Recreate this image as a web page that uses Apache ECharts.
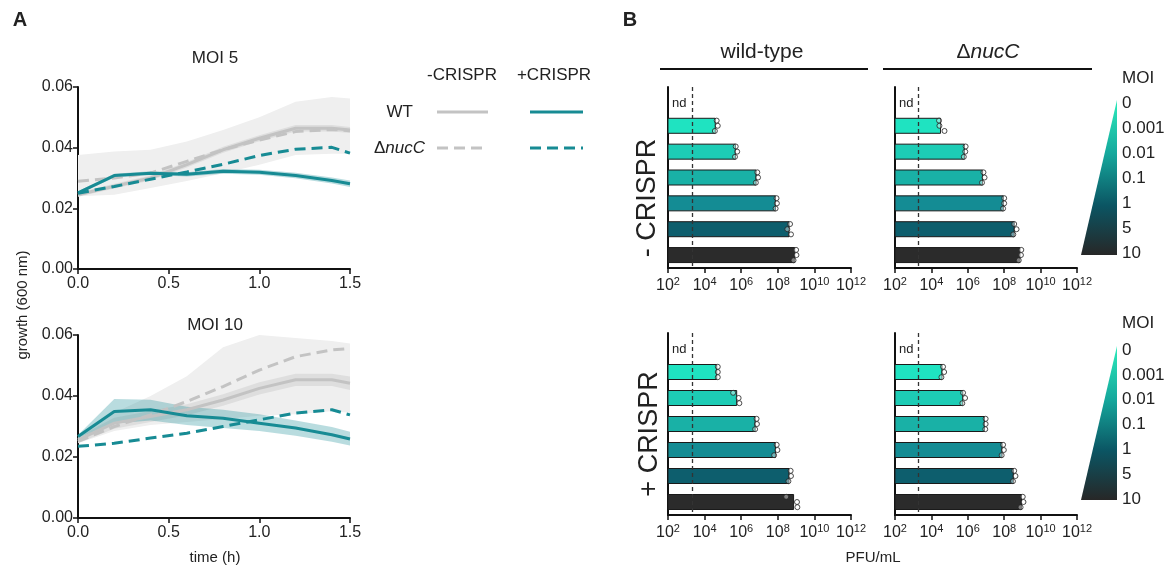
<!DOCTYPE html>
<html>
<head>
<meta charset="utf-8">
<script src="https://cdn.jsdelivr.net/npm/echarts@6/dist/echarts.min.js"></script>
<style>html,body{margin:0;background:#fff}#main{width:1176px;height:575px}</style>
</head>
<body>
<div id="main"></div>
<script>
// ---- panel A : growth curves (OD600) ----
const times = [0, 0.2, 0.4, 0.6, 0.8, 1.0, 1.2, 1.4, 1.5];

// MOI 5
const m5WtMinus  = [0.0245, 0.0273, 0.0300, 0.0344, 0.0393, 0.0431, 0.0464, 0.0464, 0.0458];
const m5NucMinus = [0.0289, 0.0300, 0.0316, 0.0355, 0.0393, 0.0425, 0.0453, 0.0460, 0.0456];
const m5WtPlus   = [0.0251, 0.0308, 0.0316, 0.0312, 0.0322, 0.0319, 0.0308, 0.0292, 0.0281];
const m5NucPlus  = [0.0250, 0.0272, 0.0296, 0.0320, 0.0345, 0.0374, 0.0395, 0.0401, 0.0382];
const m5NucMinusLo = [0.0240, 0.0245, 0.0267, 0.0290, 0.0316, 0.0344, 0.0376, 0.0380, 0.0380];
const m5NucMinusHi = [0.0376, 0.0387, 0.0393, 0.0420, 0.0458, 0.0500, 0.0551, 0.0567, 0.0562];
const m5WtMinusLo  = [0.0238, 0.0265, 0.0292, 0.0335, 0.0383, 0.0421, 0.0453, 0.0453, 0.0448];
const m5WtMinusHi  = [0.0252, 0.0281, 0.0308, 0.0353, 0.0403, 0.0441, 0.0475, 0.0475, 0.0468];
const m5WtPlusLo   = [0.0246, 0.0302, 0.0310, 0.0305, 0.0314, 0.0311, 0.0299, 0.0282, 0.0270];
const m5WtPlusHi   = [0.0256, 0.0314, 0.0322, 0.0319, 0.0330, 0.0327, 0.0317, 0.0302, 0.0292];

// MOI 10
const m10WtMinus  = [0.0256, 0.0311, 0.0333, 0.0355, 0.0387, 0.0425, 0.0453, 0.0453, 0.0442];
const m10NucMinus = [0.0251, 0.0300, 0.0338, 0.0382, 0.0431, 0.0485, 0.0529, 0.0551, 0.0556];
const m10WtPlus   = [0.0267, 0.0349, 0.0355, 0.0335, 0.0327, 0.0311, 0.0295, 0.0273, 0.0259];
const m10NucPlus  = [0.0235, 0.0245, 0.0262, 0.0278, 0.0300, 0.0322, 0.0344, 0.0355, 0.0338];
const m10NucMinusLo = [0.0245, 0.0285, 0.0305, 0.0315, 0.0325, 0.0335, 0.0340, 0.0350, 0.0345];
const m10NucMinusHi = [0.0270, 0.0345, 0.0400, 0.0465, 0.0560, 0.0600, 0.0590, 0.0580, 0.0572];
const m10WtMinusLo  = [0.0246, 0.0293, 0.0315, 0.0337, 0.0368, 0.0405, 0.0433, 0.0433, 0.0420];
const m10WtMinusHi  = [0.0266, 0.0329, 0.0351, 0.0373, 0.0406, 0.0445, 0.0473, 0.0473, 0.0464];
const m10WtPlusLo   = [0.0262, 0.0310, 0.0320, 0.0305, 0.0295, 0.0285, 0.0270, 0.0250, 0.0238];
const m10WtPlusHi   = [0.0272, 0.0390, 0.0388, 0.0365, 0.0355, 0.0340, 0.0320, 0.0298, 0.0283];

// ---- panel B : phage titre, log10 PFU/mL ----
const moiLabels = ['0', '0.001', '0.01', '0.1', '1', '5', '10'];
const lodLog = 3.3; // detection limit, ~2x10^3

const wtMinusMean  = [4.61, 5.71, 6.84, 7.90, 8.64, 8.95];
const nucMinusMean = [4.53, 5.84, 6.84, 7.98, 8.58, 8.89];
const wtPlusMean   = [4.69, 5.78, 6.79, 7.90, 8.64, 8.89];
const nucPlusMean  = [4.61, 5.75, 6.94, 7.91, 8.53, 8.98];

const wtMinusReps  = [[4.66, 4.72, 4.56], [5.70, 5.78, 5.66], [6.88, 6.92, 6.80], [7.93, 7.95, 7.88], [8.67, 8.52, 8.72], [9.00, 9.02, 8.86]];
const nucMinusReps = [[4.42, 4.44, 4.72], [5.88, 5.86, 5.78], [6.86, 6.92, 6.78], [8.00, 8.00, 7.94], [8.55, 8.68, 8.50], [8.94, 8.92, 8.80]];
const wtPlusReps   = [[4.72, 4.72, 4.72], [5.56, 5.86, 5.90], [6.84, 6.86, 6.76], [7.94, 7.98, 7.80], [8.70, 8.72, 8.58], [8.46, 9.05, 9.07]];
const nucPlusReps  = [[4.64, 4.70, 4.55], [5.74, 5.85, 5.70], [6.98, 6.98, 6.96], [7.94, 7.98, 7.86], [8.55, 8.62, 8.48], [9.02, 9.06, 8.90]];

const FONT = 'Liberation Sans, Arial, sans-serif';
const TXT = '#222';
const GRAY = '#c3c3c3';
const TEAL = '#178b94';
const barColors = ['#1fe3c1', '#1dccb5', '#19b1a6', '#148c94', '#0d5e6d', '#2b2b2b'];

const myChart = echarts.init(document.getElementById('main'));

const axisLine = { show: true, onZero: false, lineStyle: { color: '#111', width: 2 } };
const axisTick = { show: true, length: 5, lineStyle: { color: '#111', width: 1.5 } };

function growthAxes(gi) {
    const x = {
        type: 'value', gridIndex: gi, min: 0, max: 1.5, interval: 0.5,
        axisLine, axisTick, splitLine: { show: false },
        axisLabel: { fontSize: 16, color: TXT, fontFamily: FONT, margin: 7, formatter: v => v.toFixed(1) },
    };
    const y = {
        type: 'value', gridIndex: gi, min: 0, max: 0.06, interval: 0.02,
        axisLine, axisTick, splitLine: { show: false },
        axisLabel: { fontSize: 16, color: TXT, fontFamily: FONT, margin: 5, formatter: v => v.toFixed(2) },
    };
    return [x, y];
}

// shaded band between lo and hi, drawn as one polygon through the axes
function band(ai, lo, hi, color) {
    return {
        type: 'custom', xAxisIndex: ai, yAxisIndex: ai, silent: true,
        data: times.map((t, i) => [t, lo[i], hi[i]]),
        encode: { x: 0, y: [1, 2] },
        renderItem(params, api) {
            if (params.dataIndexInside !== 0) return { type: 'group', children: [] };
            const up = [], dn = [];
            for (let i = 0; i < times.length; i++) {
                up.push(api.coord([api.value(0, i), api.value(2, i)]));
                dn.push(api.coord([api.value(0, i), api.value(1, i)]));
            }
            return { type: 'polygon', shape: { points: up.concat(dn.reverse()) }, style: { fill: color } };
        },
    };
}

function growthSeries(ai, d) {
    const pts = arr => times.map((t, i) => [t, arr[i]]);
    const line = (arr, color, dashed) => ({
        type: 'line', xAxisIndex: ai, yAxisIndex: ai, data: pts(arr), symbol: 'none',
        lineStyle: { color, width: 3, type: dashed ? [11, 6] : 'solid' },
    });
    return [
        band(ai, d.nucMinusLo, d.nucMinusHi, '#efefef'),
        band(ai, d.wtMinusLo, d.wtMinusHi, '#dedede'),
        band(ai, d.wtPlusLo, d.wtPlusHi, 'rgba(23,139,148,0.3)'),
        line(d.wtMinus, GRAY, false),
        line(d.nucMinus, GRAY, true),
        line(d.nucPlus, TEAL, true),
        line(d.wtPlus, TEAL, false),
    ];
}

function pfuAxes(gi) {
    const x = {
        type: 'value', gridIndex: gi, min: 2, max: 12, interval: 2,
        axisLine, axisTick, splitLine: { show: false },
        axisLabel: {
            margin: 8, color: TXT, fontFamily: FONT,
            formatter: v => '{b|10}{s|' + v + '}',
            rich: {
                b: { fontSize: 16, lineHeight: 18, verticalAlign: 'bottom', color: TXT, fontFamily: FONT },
                s: { fontSize: 11, lineHeight: 12, verticalAlign: 'top', color: TXT, fontFamily: FONT },
            },
        },
    };
    const y = {
        type: 'category', gridIndex: gi, data: moiLabels, inverse: true,
        axisLine, axisTick: { show: false }, axisLabel: { show: false },
    };
    const yPts = { type: 'value', gridIndex: gi, min: 0, max: 7, inverse: true, show: false };
    return [x, y, yPts];
}

function pfuSeries(xi, yi, yPi, means, reps) {
    const jitter = [-0.2, 0, 0.2];
    const pts = [];
    reps.forEach((r, i) => r.forEach((v, k) => pts.push([v, i + 1.5 + jitter[k]])));
    return [{
        type: 'bar', xAxisIndex: xi, yAxisIndex: yi, barWidth: 16,
        data: ['-', ...means.map((v, i) => ({ value: v, itemStyle: { color: barColors[i] } }))],
        itemStyle: { borderColor: '#1a1a1a', borderWidth: 1 },
        markLine: {
            silent: true, symbol: 'none', label: { show: false },
            lineStyle: { color: '#333', width: 1.3, type: [4, 3] },
            data: [{ xAxis: lodLog }],
        },
    }, {
        type: 'scatter', xAxisIndex: xi, yAxisIndex: yPi, data: pts, symbol: 'circle', symbolSize: 5,
        itemStyle: { color: 'rgba(255,255,255,0.5)', borderColor: '#222', borderWidth: 1 },
    }];
}

function cbAxes(gi) {
    return [{
        type: 'value', gridIndex: gi, show: false,
    }, {
        type: 'category', gridIndex: gi, data: moiLabels, inverse: true, boundaryGap: false, position: 'right',
        axisLine: { show: false }, axisTick: { show: false },
        axisLabel: { fontSize: 17, color: TXT, fontFamily: FONT, margin: 5 },
    }];
}

const grids = [
    { left: 78, top: 87, width: 272, height: 182 },
    { left: 78, top: 335, width: 272, height: 183 },
    { left: 668, top: 87, width: 183, height: 181 },
    { left: 895, top: 87, width: 182, height: 181 },
    { left: 668, top: 333, width: 183, height: 182 },
    { left: 895, top: 333, width: 182, height: 182 },
    { left: 1081, top: 103, width: 36, height: 150 },
    { left: 1081, top: 350, width: 36, height: 149 },
];

const [ax0, ay0] = growthAxes(0);
const [ax1, ay1] = growthAxes(1);
const pA = [2, 3, 4, 5].map(pfuAxes);
const [cx6, cy6] = cbAxes(6);
const [cx7, cy7] = cbAxes(7);

const xAxis = [ax0, ax1, ...pA.map(a => a[0]), cx6, cx7];
const yAxis = [ay0, ay1, ...pA.map(a => a[1]), cy6, cy7, ...pA.map(a => a[2])];

const series = [
    ...growthSeries(0, {
        wtMinus: m5WtMinus, nucMinus: m5NucMinus, wtPlus: m5WtPlus, nucPlus: m5NucPlus,
        nucMinusLo: m5NucMinusLo, nucMinusHi: m5NucMinusHi, wtMinusLo: m5WtMinusLo, wtMinusHi: m5WtMinusHi,
        wtPlusLo: m5WtPlusLo, wtPlusHi: m5WtPlusHi,
    }),
    ...growthSeries(1, {
        wtMinus: m10WtMinus, nucMinus: m10NucMinus, wtPlus: m10WtPlus, nucPlus: m10NucPlus,
        nucMinusLo: m10NucMinusLo, nucMinusHi: m10NucMinusHi, wtMinusLo: m10WtMinusLo, wtMinusHi: m10WtMinusHi,
        wtPlusLo: m10WtPlusLo, wtPlusHi: m10WtPlusHi,
    }),
    ...pfuSeries(2, 2, 8, wtMinusMean, wtMinusReps),
    ...pfuSeries(3, 3, 9, nucMinusMean, nucMinusReps),
    ...pfuSeries(4, 4, 10, wtPlusMean, wtPlusReps),
    ...pfuSeries(5, 5, 11, nucPlusMean, nucPlusReps),
];

const txt = (x, y, text, o = {}) => ({
    type: 'text', x, y, rotation: o.rot || 0,
    style: {
        text, fill: TXT, fontFamily: FONT, fontSize: o.size || 16, fontWeight: o.bold ? 'bold' : 'normal',
        align: o.align || 'center', verticalAlign: 'middle', rich: o.rich,
    },
});
const seg = (x1, y1, x2, y2, color, width, dash) => ({
    type: 'line', shape: { x1, y1, x2, y2 },
    style: { stroke: color, lineWidth: width, lineDash: dash || null },
});
const nucRich = { i: { fontStyle: 'italic', fontSize: 17, fill: TXT, fontFamily: FONT } };
const tri = (top, bottom) => ({
    type: 'polygon', shape: { points: [[1117, top], [1117, bottom], [1081, bottom]] },
    style: {
        fill: new echarts.graphic.LinearGradient(0, 0, 0, 1, [
            { offset: 0, color: '#2cebbb' }, { offset: 0.35, color: '#15a79c' },
            { offset: 0.68, color: '#0b5563' }, { offset: 1, color: '#272727' },
        ]),
    },
});

const graphic = [
    txt(20, 20, 'A', { size: 20, bold: true }),
    txt(630, 20, 'B', { size: 20, bold: true }),
    txt(215, 58, 'MOI 5', { size: 17 }),
    txt(215, 325, 'MOI 10', { size: 17 }),
    txt(215, 558, 'time (h)', { size: 15 }),
    txt(23, 305, 'growth (600 nm)', { size: 15, rot: Math.PI / 2 }),
    // legend of panel A
    txt(462, 75, '-CRISPR', { size: 17 }),
    txt(554, 75, '+CRISPR', { size: 17 }),
    txt(413, 112, 'WT', { size: 17, align: 'right' }),
    txt(425, 148, 'Δ{i|nucC}', { size: 17, align: 'right', rich: nucRich }),
    seg(437, 112, 488, 112, GRAY, 3),
    seg(530, 112, 583, 112, TEAL, 3),
    seg(437, 148, 488, 148, GRAY, 3, [11, 6]),
    seg(530, 148, 583, 148, TEAL, 3, [11, 6]),
    // headers of panel B
    txt(762, 52, 'wild-type', { size: 21 }),
    seg(660, 69, 868, 69, '#111', 2),
    txt(988, 52, 'Δ{i|nucC}', { size: 21, rich: { i: { fontStyle: 'italic', fontSize: 21, fill: TXT, fontFamily: FONT } } }),
    seg(883, 69, 1092, 69, '#111', 2),
    txt(648, 198, '- CRISPR', { size: 27, rot: Math.PI / 2 }),
    txt(650, 434, '+ CRISPR', { size: 27, rot: Math.PI / 2 }),
    txt(672, 103, 'nd', { size: 13, align: 'left' }),
    txt(899, 103, 'nd', { size: 13, align: 'left' }),
    txt(672, 349, 'nd', { size: 13, align: 'left' }),
    txt(899, 349, 'nd', { size: 13, align: 'left' }),
    txt(873, 558, 'PFU/mL', { size: 15 }),
    txt(1122, 78, 'MOI', { size: 17, align: 'left' }),
    txt(1122, 323, 'MOI', { size: 17, align: 'left' }),
    tri(100, 255),
    tri(346, 500),
];

myChart.setOption({
    animation: false,
    backgroundColor: '#fff',
    textStyle: { fontFamily: FONT },
    grid: grids,
    xAxis,
    yAxis,
    series,
    graphic,
});
</script>
</body>
</html>
